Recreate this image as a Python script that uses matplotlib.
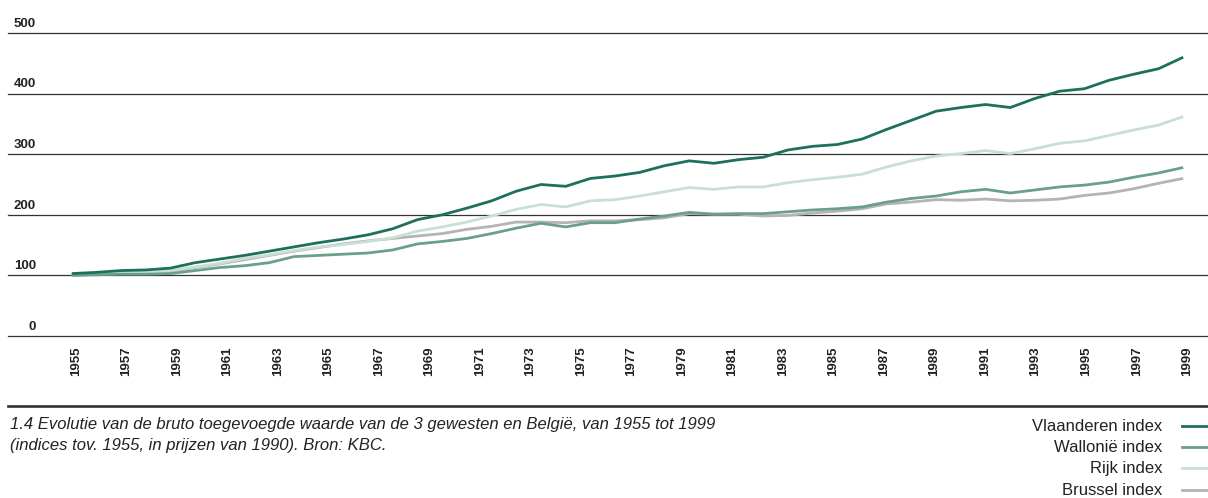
import numpy as np
import matplotlib
matplotlib.use("Agg")
import matplotlib.pyplot as plt
from matplotlib.lines import Line2D

# ---- data (46 yearly points) ----
vlaanderen = [103, 105, 108, 109, 112, 121, 127, 133, 140, 147, 154, 160, 167, 177, 192,
              200, 211, 223, 239, 250, 247, 260, 264, 270, 281, 289, 285, 291, 295, 307,
              313, 316, 325, 341, 356, 371, 377, 382, 377, 392, 404, 408, 422, 432, 441, 460]
wallonie = [100, 101, 102, 102, 103, 108, 113, 116, 121, 131, 133, 135, 137, 142, 152,
            156, 161, 169, 178, 186, 180, 187, 187, 193, 198, 204, 201, 202, 202, 205,
            208, 210, 213, 221, 227, 231, 238, 242, 236, 241, 246, 249, 254, 262, 269, 278]
rijk = [100, 102, 104, 105, 108, 114, 120, 128, 134, 141, 147, 151, 156, 162, 173,
        180, 188, 198, 209, 217, 213, 223, 225, 231, 238, 245, 242, 246, 246, 253,
        258, 262, 267, 279, 289, 297, 301, 306, 301, 309, 318, 322, 331, 340, 348, 362]
brussel = [100, 102, 104, 105, 107, 113, 119, 126, 133, 140, 146, 152, 157, 161, 165,
           169, 176, 181, 188, 188, 187, 190, 190, 192, 195, 202, 201, 201, 198, 199,
           203, 206, 210, 218, 221, 225, 224, 226, 223, 224, 226, 232, 236, 243, 252, 260]

tick_years = list(range(1955, 2000, 2))
y_ticks = [0, 100, 200, 300, 400, 500]

series_names = ["Vlaanderen index", "Wallonië index", "Rijk index", "Brussel index"]
series_data = [vlaanderen, wallonie, rijk, brussel]
series_colors = ["#1e6f5e", "#6b9f8d", "#c8dfd5", "#b5b3b5"]

caption1 = "1.4 Evolutie van de bruto toegevoegde waarde van de 3 gewesten en België, van 1955 tot 1999"
caption2 = "(indices tov. 1955, in prijzen van 1990). Bron: KBC."

# ---- figure ----
W, H = 1208, 498
fig = plt.figure(figsize=(W / 100, H / 100), dpi=100)
ax = fig.add_axes([8 / W, (H - 336) / H, 1200 / W, (336 - 33) / H])

narrow = ["Liberation Sans Narrow", "Liberation Sans", "DejaVu Sans"]
sans = ["Liberation Sans", "DejaVu Sans"]

x = np.arange(len(vlaanderen))
ax.set_xlim(-2.579, 46.004)
ax.set_ylim(0, 500)
for s in ax.spines.values():
    s.set_visible(False)

for v in y_ticks:
    ax.axhline(v, color="#333333", lw=0.9, clip_on=False, zorder=1)
    ax.annotate(str(v), xy=(28 / 1200, v), xycoords=("axes fraction", "data"),
                xytext=(0, 4.5), textcoords="offset points", ha="right", va="baseline",
                fontsize=9.5, fontweight="bold", family=narrow, color="#222222")

order = [3, 2, 1, 0]
for i in order:
    ax.plot(x, series_data[i], color=series_colors[i], lw=2.0, zorder=3 + (3 - i),
            solid_joinstyle="round", solid_capstyle="butt")

ax.set_yticks([])
tick_pos = np.linspace(0.17, 45.16, len(tick_years))
ax.set_xticks(tick_pos)
ax.set_xticklabels([str(y) for y in tick_years], rotation=90, fontsize=9.5,
                   fontweight="bold", family=narrow, color="#222222")
ax.tick_params(axis="x", length=0, pad=7.5)

# thick separator line
fig.add_artist(Line2D([8 / W, 1.0], [1 - 406 / H] * 2, color="#333333", lw=1.9))

# caption
fig.text(10 / W, 1 - 425 / H, caption1, style="italic", fontsize=12, family=sans,
         va="center", ha="left", color="#222222")
fig.text(10 / W, 1 - 445 / H, caption2, style="italic", fontsize=12, family=sans,
         va="center", ha="left", color="#222222")

# legend (manual, right aligned)
rows_y = [426, 447, 468, 490]
for name, col, yy in zip(series_names, series_colors, rows_y):
    fig.text(1162 / W, 1 - yy / H, name, fontsize=12, family=sans, ha="right",
             va="center", color="#222222")
    fig.add_artist(Line2D([1182 / W, 1207 / W], [1 - yy / H] * 2, color=col, lw=2.0))

fig.savefig("out.png", dpi=100)
